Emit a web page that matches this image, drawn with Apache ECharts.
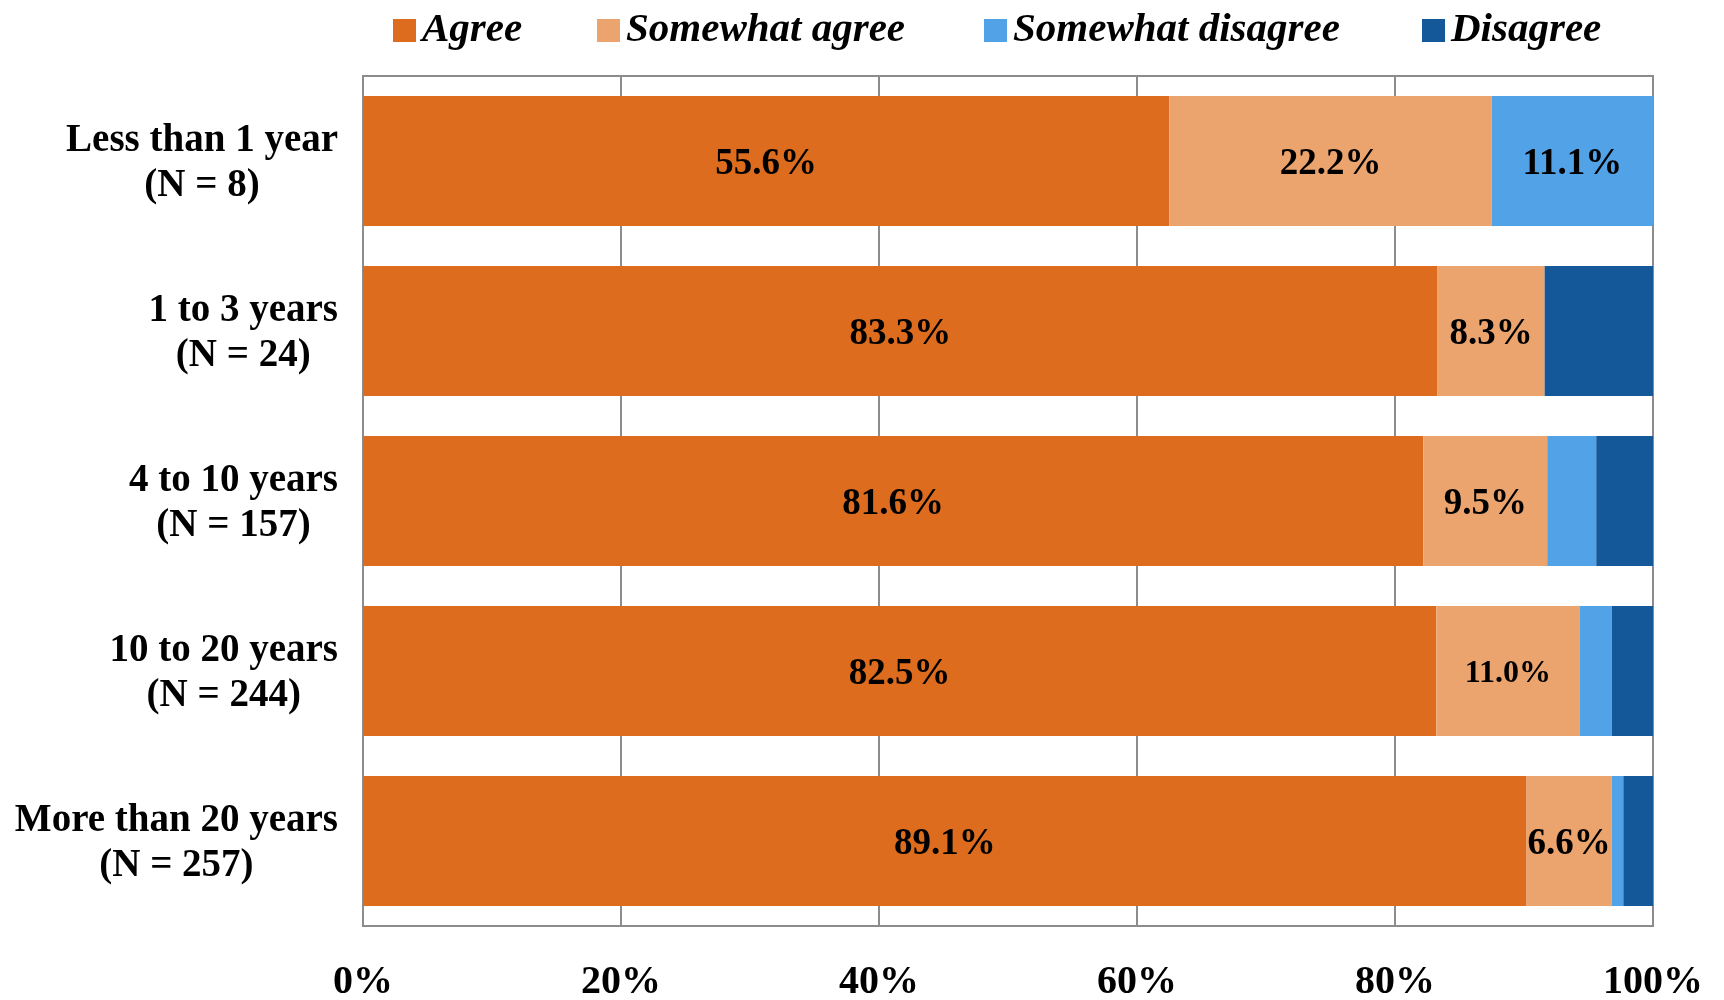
<!DOCTYPE html>
<html>
<head>
<meta charset="utf-8">
<script src="https://cdn.jsdelivr.net/npm/echarts@6/dist/echarts.min.js"></script>
<style>
html,body{margin:0;padding:0;background:#fff;}
#chart{width:1724px;height:1000px;}
</style>
</head>
<body>
<div id="chart"></div>
<script>
// Categories (top to bottom)
const categories = ['Less than 1 year\n(N = 8)', '1 to 3 years\n(N = 24)', '4 to 10 years\n(N = 157)', '10 to 20 years\n(N = 244)', 'More than 20 years\n(N = 257)'];
const seriesNames = ['Agree', 'Somewhat agree', 'Somewhat disagree', 'Disagree'];
const seriesColors = ['#DD6C1E', '#ECA46E', '#52A2E8', '#145899'];

// Bar lengths (percent), as drawn
const agree            = [62.5, 83.3, 82.2, 83.2, 90.2];
const somewhatAgree    = [25.0, 8.3, 9.6, 11.1, 6.6];
const somewhatDisagree = [12.5, 0, 3.8, 2.5, 0.9];
const disagree         = [0, 8.4, 4.4, 3.3, 2.3];

// Printed value labels (null = no label)
const agreeLabels            = ['55.6%', '83.3%', '81.6%', '82.5%', '89.1%'];
const somewhatAgreeLabels    = ['22.2%', '8.3%', '9.5%', '11.0%', '6.6%'];
const somewhatDisagreeLabels = ['11.1%', null, null, null, null];
const disagreeLabels         = [null, null, null, null, null];

// x-axis ticks
const xTicks = [0, 20, 40, 60, 80, 100];

const FONT = '"Liberation Serif", "Times New Roman", serif';
const values = [agree, somewhatAgree, somewhatDisagree, disagree];
const labels = [agreeLabels, somewhatAgreeLabels, somewhatDisagreeLabels, disagreeLabels];
const smallLabels = {'11.0%': 32};

const series = seriesNames.map((name, si) => ({
  name: name,
  type: 'bar',
  stack: 'total',
  barWidth: 130,
  itemStyle: {color: seriesColors[si]},
  data: values[si].map((v, i) => {
    const t = labels[si][i];
    return {
      value: v,
      label: {
        show: !!t,
        position: 'inside',
        offset: [0, 3],
        formatter: t || '',
        color: '#000',
        fontFamily: FONT,
        fontWeight: 'bold',
        fontSize: (t && smallLabels[t]) ? smallLabels[t] : 37
      }
    };
  })
}));

const legendLefts = [388, 592, 979, 1417];
const legends = seriesNames.map((name, i) => ({
  data: [name],
  left: legendLefts[i],
  top: 5,
  icon: 'rect',
  itemWidth: 23,
  itemHeight: 23,
  itemGap: 6,
  selectedMode: false,
  textStyle: {fontFamily: FONT, fontWeight: 'bold', fontStyle: 'italic', fontSize: 41, color: '#000', padding: [0, 0, 0, 1]}
}));

const chart = echarts.init(document.getElementById('chart'), null, {renderer: 'canvas'});
chart.setOption({
  animation: false,
  backgroundColor: '#fff',
  legend: legends,
  grid: {left: 363, right: 71, top: 76, bottom: 74, show: true, borderColor: '#8c8c8c', borderWidth: 2, containLabel: false, outerBoundsMode: 'none'},
  xAxis: {
    type: 'value',
    min: xTicks[0],
    max: xTicks[xTicks.length - 1],
    interval: xTicks[1] - xTicks[0],
    axisLine: {show: true, lineStyle: {color: '#8c8c8c', width: 2}},
    axisTick: {show: false},
    splitLine: {show: true, lineStyle: {color: '#8c8c8c', width: 2}},
    axisLabel: {
      formatter: '{value}%',
      margin: 37,
      color: '#000',
      fontFamily: FONT,
      fontWeight: 'bold',
      fontSize: 40
    }
  },
  yAxis: {
    type: 'category',
    data: categories,
    inverse: true,
    axisLine: {show: true, lineStyle: {color: '#8c8c8c', width: 2}},
    axisTick: {show: false},
    splitLine: {show: false},
    axisLabel: {
      margin: 25,
      align: 'right',
      padding: [4, 0, 0, 0],
      formatter: function (v) { return v.split('\n').map(s => '{a|' + s + '}').join('\n'); },
      rich: {
        a: {align: 'center', fontFamily: FONT, fontWeight: 'bold', fontSize: 39, lineHeight: 45, color: '#000'}
      }
    }
  },
  series: series
});
</script>
</body>
</html>
